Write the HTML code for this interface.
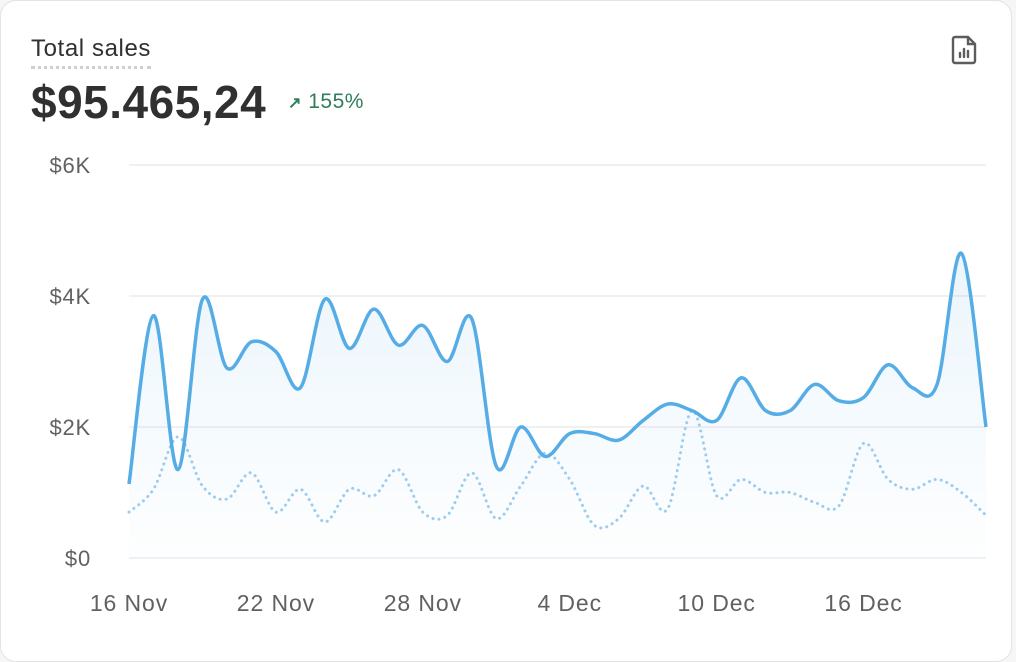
<!DOCTYPE html>
<html><head><meta charset="utf-8"><style>
body{margin:0;width:1016px;height:646px;background:#f6f6f7;font-family:"Liberation Sans",sans-serif;overflow:hidden}
.card{position:absolute;left:0;top:0;width:1010px;height:660px;background:#fff;border-radius:16px;border:1px solid #e3e3e3}
.title{position:absolute;left:30px;top:34px;font-size:24px;letter-spacing:0.6px;color:#303030;padding-bottom:3px;border-bottom:3px dotted #cfcfcf}
.value{position:absolute;left:30px;top:74px;font-size:46px;font-weight:bold;color:#303030;letter-spacing:0.5px}
.delta{position:absolute;left:287px;top:89px;font-size:21px;color:#2e7d5b;letter-spacing:0.5px}
</style></head><body>
<div class="card">
<div class="title">Total sales</div>
<div class="value">$95.465,24</div>
<div class="delta"><span style="font-size:16px;font-weight:bold">↗</span> 155%</div>
<svg style="position:absolute;left:950px;top:34px" width="28" height="30" viewBox="0 0 28 30"><path d="M4 2h13l7 7v17a2 2 0 0 1-2 2H4a2 2 0 0 1-2-2V4a2 2 0 0 1 2-2z" fill="none" stroke="#5c5c5c" stroke-width="2.4"/><path d="M17 2v7h7" fill="none" stroke="#5c5c5c" stroke-width="2.4"/><path d="M9 22v-4M13 22v-8M17 22v-6" stroke="#5c5c5c" stroke-width="2.4" stroke-linecap="round"/></svg>
<svg id="chart" width="1016" height="646" style="position:absolute;left:0;top:0"></svg>
</div>
<script>
const categories=["16 Nov","17 Nov","18 Nov","19 Nov","20 Nov","21 Nov","22 Nov","23 Nov","24 Nov","25 Nov","26 Nov","27 Nov","28 Nov","29 Nov","30 Nov","1 Dec","2 Dec","3 Dec","4 Dec","5 Dec","6 Dec","7 Dec","8 Dec","9 Dec","10 Dec","11 Dec","12 Dec","13 Dec","14 Dec","15 Dec","16 Dec","17 Dec","18 Dec","19 Dec","20 Dec","21 Dec"];
const currentSales=[1.13,3.7,1.35,3.95,2.9,3.3,3.15,2.6,3.95,3.2,3.8,3.25,3.55,3.0,3.65,1.4,2.0,1.55,1.9,1.9,1.8,2.1,2.35,2.25,2.1,2.75,2.25,2.25,2.65,2.4,2.45,2.95,2.6,2.65,4.65,2.0];
const previousSales=[0.7,1.05,1.85,1.1,0.9,1.3,0.7,1.05,0.55,1.05,0.95,1.35,0.7,0.65,1.3,0.6,1.1,1.6,1.2,0.5,0.6,1.1,0.75,2.25,0.95,1.2,1.0,1.0,0.85,0.8,1.75,1.2,1.05,1.2,1.0,0.65];
const yTicks=[0,2,4,6];
const yTickLabels=["$0","$2K","$4K","$6K"];
const xTickIdx=[0,6,12,18,24,30];
const NS="http://www.w3.org/2000/svg",svg=document.getElementById('chart');
const X=i=>128+i*(857/(categories.length-1));
const Y=v=>557-v*65.5;
function mk(t,a,p){const e=document.createElementNS(NS,t);for(const k in a)e.setAttribute(k,a[k]);(p||svg).appendChild(e);return e;}
function path(vals){const p=vals.map((v,i)=>[X(i),Y(v)]);let d=`M${p[0][0]},${p[0][1]}`;
for(let i=0;i<p.length-1;i++){const p0=p[i-1]||p[i],p1=p[i],p2=p[i+1],p3=p[i+2]||p2;
d+=`C${p1[0]+(p2[0]-p0[0])/6},${p1[1]+(p2[1]-p0[1])/6} ${p2[0]-(p3[0]-p1[0])/6},${p2[1]-(p3[1]-p1[1])/6} ${p2[0]},${p2[1]}`;}return d;}
const defs=mk('defs',{});const g=mk('linearGradient',{id:'fill',x1:0,y1:0,x2:0,y2:1},defs);
mk('stop',{offset:'0','stop-color':'#5aaee5','stop-opacity':'0.12'},g);mk('stop',{offset:'1','stop-color':'#5aaee5','stop-opacity':'0.01'},g);
yTicks.forEach((t,i)=>{const l=mk('line',{x1:128,x2:985,y1:Y(t),y2:Y(t),stroke:'#ebebeb','stroke-width':1.5});


const tx=mk('text',{x:90,y:Y(t)+8,'text-anchor':'end','font-size':22,'letter-spacing':'0.8',fill:'#616161'});tx.textContent=yTickLabels[i];

});
xTickIdx.forEach(i=>{const tx=mk('text',{x:X(i),y:610,'text-anchor':'middle','font-size':23,'letter-spacing':'0.9',fill:'#616161'});tx.textContent=categories[i];

});
const cd=path(currentSales);
const area=mk('path',{d:cd+`L${X(categories.length-1)},557L${X(0)},557Z`,fill:'url(#fill)'});


const prev=mk('path',{d:path(previousSales),fill:'none',stroke:'#9ccdef','stroke-width':3,'stroke-dasharray':'0.1 6','stroke-linecap':'round'});


const cur=mk('path',{d:cd,fill:'none',stroke:'#56ade6','stroke-width':3.5,'stroke-linejoin':'round'});


</script>
</body></html>
